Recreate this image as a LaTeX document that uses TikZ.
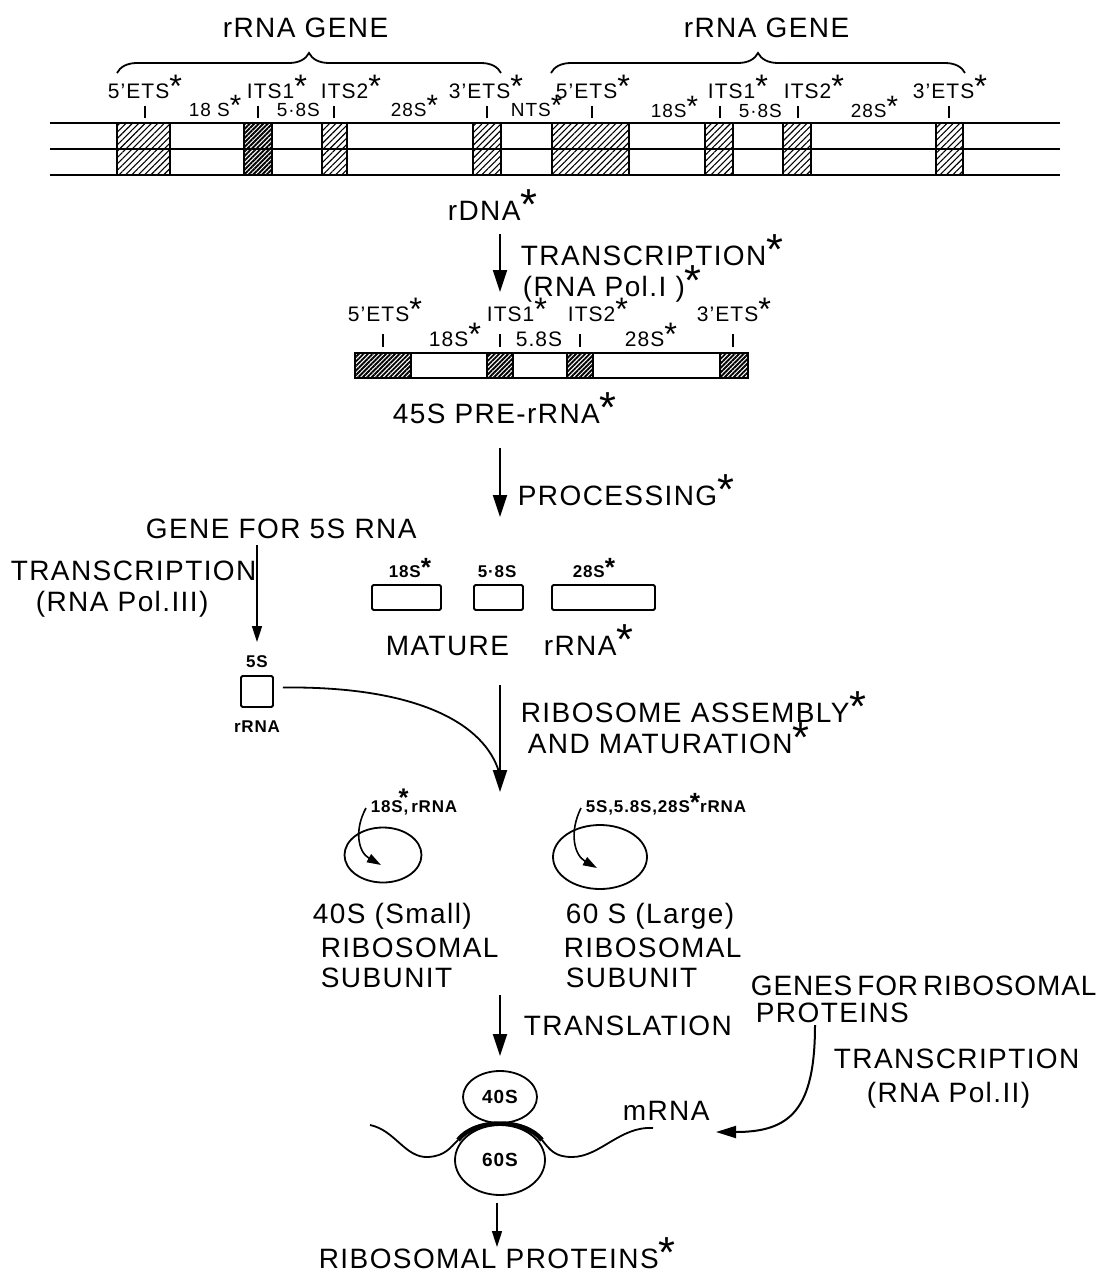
\documentclass[tikz,border=0pt]{standalone}
\usepackage{fontspec}
\setmainfont{Liberation Sans}[LetterSpace=5]
\usetikzlibrary{patterns.meta,decorations.pathreplacing,arrows.meta,shapes.geometric}
\newcommand\fbig{\fontsize{28}{30}\selectfont}
\newcommand\fmid{\fontsize{21}{24}\selectfont}
\newcommand\fsm{\fontsize{19}{22}\selectfont}
\newcommand\fbold{\fontsize{17}{20}\selectfont\bfseries}
\newcommand\stx{\raisebox{0.02em}{\scalebox{1.55}{*}}}
\begin{document}
\begin{tikzpicture}[x=1pt,y=-1pt,line width=1.8pt,
 every node/.style={inner sep=0pt},
 big/.style={font=\fbig, anchor=base west},
 mid/.style={font=\fmid, anchor=base west},
 sm/.style={font=\fsm, anchor=base west},
 bsm/.style={font=\fbold, anchor=base west},
 bsc/.style={font=\fbold, anchor=base},
 hat/.style={draw, line width=2pt, pattern={Lines[angle=45,distance=4.5pt,line width=1.1pt]}},
 dhat/.style={draw, line width=2pt, pattern={Lines[angle=45,distance=3.2pt,line width=1.9pt]}},
 tick/.style={line width=1.3pt},
 arr/.style={line width=2pt,-{Triangle[length=22pt,width=14pt]}},
 sarr/.style={line width=1.6pt,-{Triangle[length=16pt,width=10pt]}},
 carr/.style={line width=1.6pt,-{Triangle[length=14pt,width=9pt]}},
 rbox/.style={draw, rectangle, rounded corners=1.5pt, line width=1.8pt},
 ell/.style={draw, ellipse, line width=1.8pt, inner sep=0pt},
 brc/.style={decorate, decoration={brace, amplitude=20pt}, line width=1.8pt}]
\useasboundingbox (0,0) rectangle (1105,1274);

% ---------- rDNA ----------
\node[big] (g1) at (222,37) {rRNA GENE};
\node[big] (g2) at (683,37) {rRNA GENE};
\draw[brc] (117,73) -- (501,73);
\draw[brc] (551,73) -- (965,73);

\foreach \y in {123,175} \draw (50,\y) -- (1060,\y);
\foreach \a/\b in {117/170,322/347,473/501,552/629,705/733,783/811,936/963}
  \draw[hat] (\a,123) rectangle (\b,175);
\draw[dhat] (244,123) rectangle (272,175);
\draw (50,149) -- (1060,149);

\foreach \x in {145,258,334,487,592,720,798,949} \draw[tick] (\x,106) -- (\x,118);

\node[mid] (l5a) at (107,98) {5’ETS\stx};
\node[mid] (li1a) at (246,98) {ITS1\stx};
\node[mid] (li2a) at (320,98) {ITS2\stx};
\node[mid] (l3a) at (448,98) {3’ETS\stx};
\node[sm] (l18a) at (188,116) {18 S\stx};
\node[sm] (l58a) at (276,116) {5·8S};
\node[sm] (l28a) at (390,116) {28S\stx};
\node[sm] (nts) at (510,116) {NTS\stx};

\node[mid] (l5b) at (555,98) {5’ETS\stx};
\node[sm] (l18b) at (650,117) {18S\stx};
\node[mid] (li1b) at (707,98) {ITS1\stx};
\node[sm] (l58b) at (738,117) {5·8S};
\node[mid] (li2b) at (783,98) {ITS2\stx};
\node[sm] (l28b) at (850,117) {28S\stx};
\node[mid] (l3b) at (912,98) {3’ETS\stx};

\node[big] (rdna) at (447,220) {rDNA\stx};

% ---------- transcription ----------
\coordinate (a1s) at (500,234);
\coordinate (a1e) at (500,292);
\draw[arr] (a1s) -- (a1e);
\node[big] (tr1) at (520,265) {TRANSCRIPTION\stx};
\node[big] (pol1) at (522,296) {(RNA Pol.I )\stx};

% ---------- pre-rRNA ----------
\draw[line width=2.5pt, fill=white] (355,353) rectangle (748,378);
\foreach \a/\b in {355/411,487/513,567/593,720/748}
  \draw[dhat] (\a,353) rectangle (\b,378);
\draw[line width=2.5pt] (355,353) rectangle (748,378);
\foreach \x in {383,500,580,733} \draw[tick] (\x,334) -- (\x,347);
\node[mid] (p5) at (347,321) {5’ETS\stx};
\node[mid] (p18) at (428,346) {18S\stx};
\node[mid] (pi1) at (486,321) {ITS1\stx};
\node[mid] (p58) at (515,346) {5.8S};
\node[mid] (pi2) at (567,321) {ITS2\stx};
\node[mid] (p28) at (624,346) {28S\stx};
\node[mid] (p3) at (696,321) {3’ETS\stx};
\node[big] (pre) at (392,423) {45S PRE-rRNA\stx};

% ---------- processing ----------
\coordinate (a2s) at (500,448);
\coordinate (a2e) at (500,517);
\draw[arr] (a2s) -- (a2e);
\node[big] (proc) at (517,505) {PROCESSING\stx};

\node[rbox, minimum width=69pt, minimum height=25pt] (m18) at (406.5,597.5) {};
\node[rbox, minimum width=49pt, minimum height=25pt] (m58) at (498.5,597.5) {};
\node[rbox, minimum width=103pt, minimum height=25pt] (m28) at (603.5,597.5) {};
\node[bsm] (t18) at (388,577) {18S\stx};
\node[bsm] (t58) at (477,577) {5·8S};
\node[bsm] (t28) at (572,577) {28S\stx};
\node[big] (mat) at (385,655) {MATURE};
\node[big] (matr) at (543,655) {rRNA\stx};

% ---------- 5S ----------
\node[big] (g5s) at (145,538) {GENE FOR 5S RNA};
\node[big] (tr3) at (10,580) {TRANSCRIPTION};
\node[big] (pol3) at (35,611) {(RNA Pol.III)};
\coordinate (a5s) at (257,545);
\coordinate (a5e) at (257,642);
\draw[sarr] (a5s) -- (a5e);
\node[bsc] (l5s) at (257,667) {5S};
\node[rbox, minimum width=32pt, minimum height=31pt] (b5s) at (257,691.5) {};
\node[bsc] (r5s) at (257,732) {rRNA};

% ---------- assembly ----------
\coordinate (a3s) at (500,685);
\coordinate (a3e) at (500,792);
\draw[arr] (a3s) -- (a3e);
\draw ([xshift=9pt,yshift=4pt]b5s.east) .. controls (420,686) and (485,725) .. (499,772);
\node[big] (asm1) at (520,722) {RIBOSOME ASSEMBLY\stx};
\node[big] (asm2) at (527,753) {AND MATURATION\stx};

\node[ell, minimum width=77pt, minimum height=55pt] (s40) at (383,855) {};
\node[ell, minimum width=94pt, minimum height=64pt] (s60) at (600,857) {};
\node[bsm] (l40r) at (370,812) {18S,\llap{\raisebox{.3em}{\scalebox{1.5}{*}}}\,rRNA};
\node[bsm] (l60r) at (585,812) {5S,5.8S,28S\stx rRNA};
\coordinate (c40) at (366,808);
\coordinate (c60) at (581,808);
\draw[carr] (c40) .. controls (354,830) and (358,852) .. (381,865);
\draw[carr] (c60) .. controls (569,832) and (574,855) .. (597,868);

\node[big] (u40a) at (312,923) {40S (Small)};
\node[big] (u40b) at (320,957) {RIBOSOMAL};
\node[big] (u40c) at (320,987) {SUBUNIT};
\node[big] (u60a) at (565,923) {60 S (Large)};
\node[big] (u60b) at (563,957) {RIBOSOMAL};
\node[big] (u60c) at (565,987) {SUBUNIT};
\node[big] (grp1) at (750,995) {\addfontfeature{LetterSpace=3}GENES\hspace{0.18em}FOR\hspace{0.18em}RIBOSOMAL};
\node[big] (grp2) at (755,1022) {PROTEINS};

% ---------- translation ----------
\coordinate (a4s) at (500,995);
\coordinate (a4e) at (500,1056);
\draw[arr] (a4s) -- (a4e);
\node[big] (trl) at (523,1035) {TRANSLATION};
\node[big] (tr2) at (833,1068) {TRANSCRIPTION};
\node[big] (pol2) at (866,1102) {(RNA Pol.II)};
\coordinate (c2s) at (815,1025);
\coordinate (c2e) at (716,1132);
\draw[line width=2pt,-{Triangle[length=20pt,width=12pt]}] (c2s) .. controls (815,1110) and (790,1132) .. (c2e);

\node[ell, minimum width=74pt, minimum height=52pt, font=\fontsize{19}{22}\selectfont\bfseries] (r40) at (500,1097) {40S};
\node[ell, minimum width=90pt, minimum height=70pt, font=\fontsize{19}{22}\selectfont\bfseries] (r60) at (500,1160) {60S};
\draw (370,1125) .. controls (395,1130) and (405,1158) .. (428,1157) .. controls (445,1156) and (450,1148) .. (458,1140);
\draw[line width=4.5pt] (458,1140) .. controls (475,1118) and (525,1118) .. (542,1140);
\draw (542,1140) .. controls (550,1150) and (555,1157) .. (572,1157) .. controls (600,1157) and (620,1126) .. (653,1128);
\node[big] (mrna) at (622,1120) {mRNA};

\coordinate (a6s) at (497,1203);
\coordinate (a6e) at (497,1247);
\draw[sarr] (a6s) -- (a6e);
\node[big] (rp) at (318,1268) {RIBOSOMAL PROTEINS\stx};
\end{tikzpicture}
\end{document}
